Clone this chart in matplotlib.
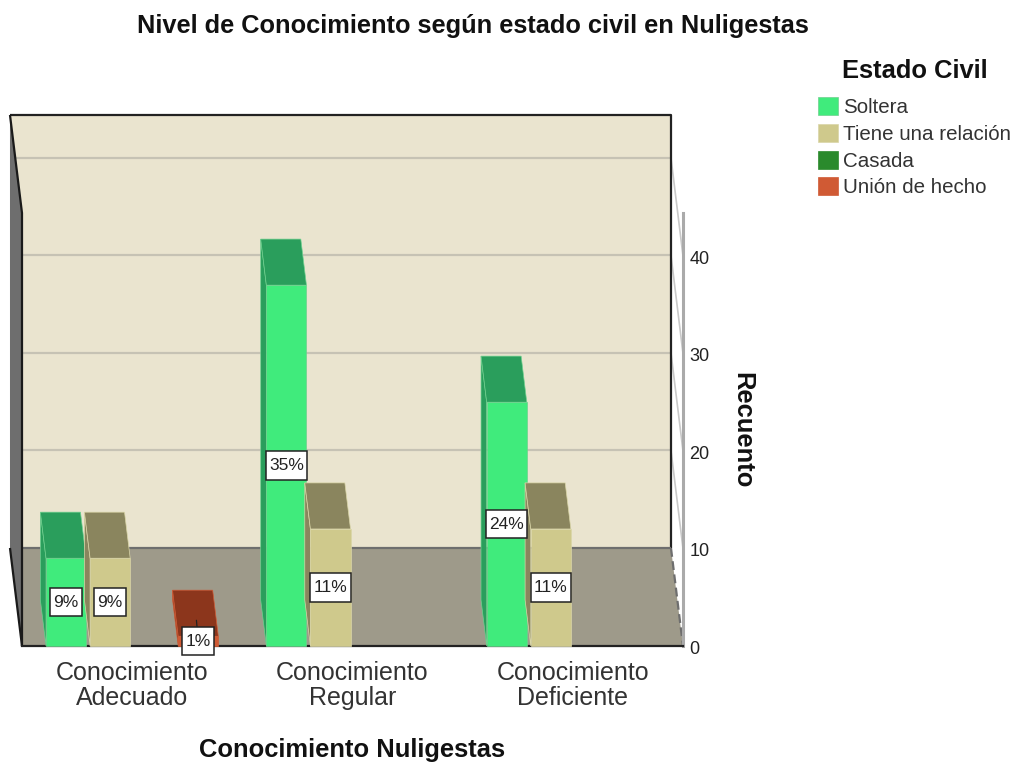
import matplotlib
matplotlib.use("Agg")
import matplotlib.pyplot as plt
from matplotlib.patches import Patch
from matplotlib.path import Path
from matplotlib.transforms import ScaledTranslation

plt.rcParams['font.family'] = ['Liberation Sans', 'DejaVu Sans']

title = "Nivel de Conocimiento según estado civil en Nuligestas"
x_label = "Conocimiento Nuligestas"
y_label = "Recuento"
legend_title = "Estado Civil"
categories = ["Conocimiento\nAdecuado", "Conocimiento\nRegular", "Conocimiento\nDeficiente"]
series_names = ["Soltera", "Tiene una relación", "Casada", "Unión de hecho"]
soltera = [9, 37, 25]
relacion = [9, 12, 12]
casada = [0, 0, 0]
union = [1, 0, 0]
y_ticks = [0, 10, 20, 30, 40]

front_colors = ["#40EB7C", "#CFC98C", "#2A8A2C", "#D05A34"]
top_colors = ["#2A9E5C", "#8A855E", "#1E6320", "#8C361C"]
edge_colors = ["#6FD08F", "#DAD6A8", "#2A8A2C", "#D05A34"]

W, H = 1017, 762
YMAX = 44.4
DX = -12 / 220      # full depth, x offset in category units
DY = 98 / 9.75      # full depth, y offset in count units
BAR_DEPTH = 0.47
BAR_W = 0.182
PITCH = 0.2

fig = plt.figure(figsize=(W / 100, H / 100), dpi=100, facecolor="white")
ax = fig.add_axes([22 / W, (H - 646) / H, 661 / W, 433 / H])
ax.set_xlim(0, 3)
ax.set_ylim(0, YMAX)
ax.patch.set_visible(False)

def proj(x, y, d=1.0):
    return x + d * DX, y + d * DY

def poly(points, **kw):
    xs, ys = zip(*points)
    ax.fill(xs, ys, clip_on=False, **kw)

def line(points, **kw):
    xs, ys = zip(*points)
    ax.plot(xs, ys, clip_on=False, solid_capstyle="butt", **kw)

def label_box(x0, y0, w, h, mutation_size):
    px, py = 0.19 * mutation_size, 0.38 * mutation_size
    a, b, c, d = x0 - px, y0 - py, x0 + w + px, y0 + h + py
    return Path([(a, b), (c, b), (c, d), (a, d), (a, b)], closed=True)

xL, xR = 0, len(categories)

# back wall
poly([proj(xL, 0), proj(xR, 0), proj(xR, YMAX), proj(xL, YMAX)], color="#EAE4CF", lw=0, zorder=1)
for t in y_ticks[1:]:
    line([proj(xL, t), proj(xR, t)], color="#C6C2B4", lw=1.6, zorder=1.5)
    line([proj(xR, t), (xR, t)], color="#C8C8C8", lw=1.2, zorder=1.5)
line([proj(xL, YMAX), proj(xR, YMAX), proj(xR, 0)], color="#222222", lw=1.6, zorder=2)

# floor
poly([proj(xL, 0), proj(xR, 0), (xR, 0), (xL, 0)], color="#9E9A8A", lw=0, zorder=2)
line([proj(xL, 0), proj(xR, 0)], color="#6E6E6E", lw=1.6, zorder=2.5)
ax.plot(*zip(proj(xR, 0), (xR, 0)), color="#6E6E6E", lw=1.6, ls=(0, (4, 2)), clip_on=False, zorder=2.5)

# left wall
poly([proj(xL, YMAX), (xL, YMAX), (xL, 0), proj(xL, 0)], color="#6E6E6E", lw=0, zorder=2.2)
poly([proj(xL, 0), proj(xL, 0), (xL, 0)], color="#9E9A8A", lw=0, zorder=2.3)
line([proj(xL, YMAX), (xL, YMAX), (xL, 0)], color="#1A1A1A", lw=1.6, zorder=2.6)
line([proj(xL, 0), (xL, 0)], color="#1A1A1A", lw=1.6, zorder=2.6)

# bars
series = [soltera, relacion, casada, union]
total = sum(sum(s) for s in series)
for c in range(len(categories)):
    start = c + 0.5 - 1.5 * PITCH - BAR_W / 2
    for s, vals in enumerate(series):
        v = vals[c]
        if v == 0:
            continue
        x0 = start + s * PITCH
        x1 = x0 + BAR_W
        z = 3 + s * 0.1
        # left side
        poly([(x0, 0), proj(x0, 0, BAR_DEPTH), proj(x0, v, BAR_DEPTH), (x0, v)],
             facecolor=top_colors[s], edgecolor=edge_colors[s], lw=0.5, zorder=z)
        # top
        poly([(x0, v), (x1, v), proj(x1, v, BAR_DEPTH), proj(x0, v, BAR_DEPTH)],
             facecolor=top_colors[s], edgecolor=edge_colors[s], lw=0.5, zorder=z + 0.01)
        # front
        poly([(x0, 0), (x1, 0), (x1, v), (x0, v)],
             facecolor=front_colors[s], edgecolor=edge_colors[s], lw=0.5, zorder=z + 0.02)
        xc = (x0 + x1) / 2
        label = f"{round(100 * v / total)}%"
        if v == 1:
            ax.annotate("", xy=(xc, v / 2), xytext=(-1.5, 17), textcoords="offset points",
                        arrowprops=dict(arrowstyle="-", color="#222222", lw=0.9), zorder=5, annotation_clip=False)
        ax.text(xc, v / 2, label, ha="center", va="center", fontsize=12.5, color="#222222", zorder=6,
                clip_on=False,
                bbox=dict(boxstyle=label_box, facecolor="white", edgecolor="#222222", lw=1.1))

# axes
for name in ("top", "left"):
    ax.spines[name].set_visible(False)
ax.spines["bottom"].set_color("#222222")
ax.spines["bottom"].set_linewidth(1.6)
ax.spines["bottom"].set_zorder(2.7)
ax.spines["right"].set_color("#AAAAAA")
ax.spines["right"].set_linewidth(2.2)
ax.spines["right"].set_zorder(2.7)

ax.yaxis.tick_right()
ax.set_yticks(y_ticks)
ax.tick_params(axis="y", length=0, pad=4.5, labelsize=13, labelcolor="#222222")
for tick_label in ax.get_yticklabels():
    tick_label.set_transform(tick_label.get_transform()
                             + ScaledTranslation(0, -1.5 / 100, fig.dpi_scale_trans))
ax.set_xticks([i + 0.5 for i in range(len(categories))])
ax.set_xticklabels(categories, fontsize=18, color="#333333", linespacing=1.1)
ax.tick_params(axis="x", length=0, pad=10.5)

ax.yaxis.set_label_position("right")
ax.set_ylabel(y_label, rotation=270, fontsize=18.4, fontweight="bold", color="#111111")
ax.yaxis.set_label_coords((742 - 22) / 661, (646 - 430) / 433)
ax.set_xlabel(x_label, fontsize=18.4, fontweight="bold", color="#111111")
ax.xaxis.set_label_coords((352 - 22) / 661, (646 - 750) / 433)
ax.xaxis.label.set_verticalalignment("center")
ax.yaxis.label.set_verticalalignment("center")

fig.suptitle(title, x=473 / W, y=1 - 26 / H, ha="center", va="center",
             fontsize=18.3, fontweight="bold", color="#111111")

handles = [Patch(facecolor=front_colors[i], edgecolor=edge_colors[i], lw=0.5) for i in range(4)]
leg = fig.legend(handles, series_names, title=legend_title, loc="upper left",
                 bbox_to_anchor=(818 / W, 1 - 59 / H), frameon=False, fontsize=14.8,
                 labelcolor="#333333", handlelength=0.97, handleheight=0.97,
                 handletextpad=0.24, labelspacing=0.33, borderaxespad=0, borderpad=0)
leg.get_title().set_fontsize(18.4)
leg.get_title().set_fontweight("bold")
leg.get_title().set_color("#111111")
leg._legend_box.sep = 10

fig.savefig("out.png", dpi=100)
